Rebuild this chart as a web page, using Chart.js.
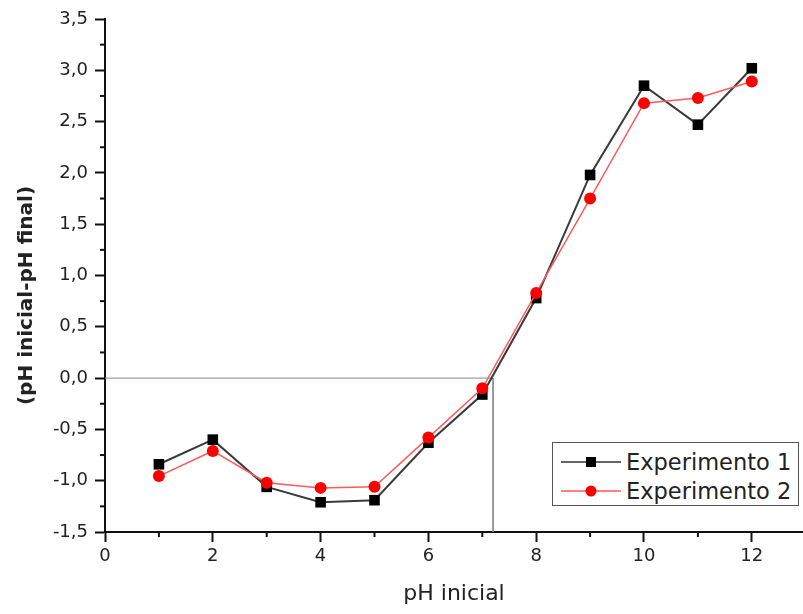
<!DOCTYPE html>
<html>
<head>
<meta charset="utf-8">
<script src="https://cdn.jsdelivr.net/npm/chart.js@4.4.0/dist/chart.umd.min.js"></script>
<style>
  html, body { margin: 0; padding: 0; background: #fff; }
  #wrap { position: relative; width: 803px; height: 614px; }
  #legend { position: absolute; left: 552px; top: 442px; width: 247px; height: 64px; box-sizing: border-box;
            border: 1.5px solid #555; background: #fff; font-family: "DejaVu Sans", sans-serif; font-size: 22.5px; color: #222; }
  #legend .sym { position: absolute; left: 6px; }
  #legend .txt { position: absolute; left: 73px; line-height: 26px; white-space: nowrap; }
</style>
</head>
<body>
<div id="wrap">
  <canvas id="c" width="803" height="614"></canvas>
  <div id="legend">
    <svg class="sym" style="top:9px" width="64" height="20"><line x1="2" y1="10" x2="62" y2="10" stroke="#333" stroke-width="1.5"/><rect x="27" y="5" width="10" height="10" fill="#000"/></svg>
    <span class="txt" style="top:6px">Experimento 1</span>
    <svg class="sym" style="top:38px" width="64" height="20"><line x1="2" y1="10" x2="62" y2="10" stroke="#ff5a5a" stroke-width="1.5"/><circle cx="32" cy="10" r="5.5" fill="#ff0000"/></svg>
    <span class="txt" style="top:35px">Experimento 2</span>
  </div>
</div>
<script>
// ---- data ----
const pHInicial    = [1, 2, 3, 4, 5, 6, 7, 8, 9, 10, 11, 12];
const experimento1 = [-0.84, -0.60, -1.06, -1.21, -1.19, -0.63, -0.16, 0.78, 1.98, 2.85, 2.47, 3.02];
const experimento2 = [-0.955, -0.71, -1.02, -1.07, -1.06, -0.58, -0.10, 0.83, 1.75, 2.68, 2.73, 2.89];
const refLineX = [0, 7.2, 7.2];
const refLineY = [0, 0, -1.5];
const xTickValues = [0, 1, 2, 3, 4, 5, 6, 7, 8, 9, 10, 11, 12];
const xMajorTicks = [0, 2, 4, 6, 8, 10, 12];
const yTickValues = [-1.5, -1.25, -1, -0.75, -0.5, -0.25, 0, 0.25, 0.5, 0.75, 1, 1.25, 1.5, 1.75, 2, 2.25, 2.5, 2.75, 3, 3.25, 3.5];
const yMajorTicks = [-1.5, -1, -0.5, 0, 0.5, 1, 1.5, 2, 2.5, 3, 3.5];
const yAxisTitle = '(pH inicial-pH final)';

const isIn = (arr, v) => arr.some(a => Math.abs(a - v) < 1e-9);
const fmtComma = v => v.toFixed(1).replace('.', ',');

const minorTickPlugin = {
  id: 'minorTicks',
  afterDraw(chart) {
    const ctx = chart.ctx, xs = chart.scales.x, ys = chart.scales.y;
    ctx.save();
    ctx.strokeStyle = '#111';
    ctx.lineWidth = 2;
    xTickValues.filter(v => !isIn(xMajorTicks, v)).forEach(v => {
      const p = xs.getPixelForValue(v);
      ctx.beginPath(); ctx.moveTo(p, xs.top); ctx.lineTo(p, xs.top + 5); ctx.stroke();
    });
    yTickValues.filter(v => !isIn(yMajorTicks, v)).forEach(v => {
      const p = ys.getPixelForValue(v);
      ctx.beginPath(); ctx.moveTo(ys.right, p); ctx.lineTo(ys.right - 5, p); ctx.stroke();
    });
    // y-axis title (offset slightly below the axis centre, as in the original)
    const ca = chart.chartArea;
    ctx.translate(ys.left + 27, (ca.top + ca.bottom) / 2 + 20);
    ctx.rotate(-Math.PI / 2);
    ctx.fillStyle = '#222';
    ctx.font = 'bold 20px "DejaVu Sans"';
    ctx.textAlign = 'center';
    ctx.textBaseline = 'middle';
    ctx.fillText(yAxisTitle, 0, 0);
    ctx.restore();
  }
};

const tickFont = { family: 'DejaVu Sans', size: 18 };

new Chart(document.getElementById('c'), {
  type: 'line',
  data: {
    datasets: [
      {
        label: 'Experimento 2',
        data: pHInicial.map((x, i) => ({ x, y: experimento2[i] })),
        borderColor: '#ff5a5a', borderWidth: 1.5,
        pointStyle: 'circle', pointRadius: 6, pointBackgroundColor: '#ff0000', pointBorderWidth: 0,
        order: 0
      },
      {
        label: 'Experimento 1',
        data: pHInicial.map((x, i) => ({ x, y: experimento1[i] })),
        borderColor: '#3a3a3a', borderWidth: 2,
        pointStyle: 'rect', pointRadius: 7.5, pointBackgroundColor: '#000', pointBorderWidth: 0,
        order: 1
      },
      {
        label: 'ref',
        data: refLineX.map((x, i) => ({ x, y: refLineY[i] })),
        borderColor: '#8a8a8a', borderWidth: 1, pointRadius: 0,
        order: 2
      }
    ]
  },
  options: {
    responsive: false,
    animation: false,
    layout: { autoPadding: false, padding: { top: 19, right: 0, left: 0, bottom: 0 } },
    plugins: { legend: { display: false }, tooltip: { enabled: false } },
    scales: {
      x: {
        type: 'linear', min: 0, max: 12.95,
        afterBuildTicks: s => { s.ticks = xTickValues.map(v => ({ value: v })); },
        afterFit: s => { s.height = 82; s.paddingRight = 0; s.paddingLeft = 0; },
        ticks: { autoSkip: false, maxRotation: 0, padding: 4, color: '#222', font: tickFont,
                 callback: v => isIn(xMajorTicks, v) ? String(v) : '' },
        grid: { display: true, drawOnChartArea: false, drawTicks: true, tickLength: 10, tickWidth: 2,
                tickColor: c => isIn(xMajorTicks, c.tick.value) ? '#111' : 'rgba(0,0,0,0)' },
        border: { display: true, color: '#111', width: 2 },
        title: { display: true, text: 'pH inicial', color: '#222',
                 font: { family: 'DejaVu Sans', size: 22 }, padding: { top: 0, bottom: 7 } }
      },
      y: {
        type: 'linear', min: -1.5, max: 3.5,
        afterBuildTicks: s => { s.ticks = yTickValues.map(v => ({ value: v })); },
        afterFit: s => { s.width = 105; },
        ticks: { autoSkip: false, padding: 7, color: '#222', font: tickFont,
                 callback: v => isIn(yMajorTicks, v) ? fmtComma(v) : '' },
        grid: { display: true, drawOnChartArea: false, drawTicks: true, tickLength: 10, tickWidth: 2,
                tickColor: c => isIn(yMajorTicks, c.tick.value) ? '#111' : 'rgba(0,0,0,0)' },
        border: { display: true, color: '#111', width: 2 },
        title: { display: false, text: yAxisTitle }
      }
    }
  },
  plugins: [minorTickPlugin]
});
</script>
</body>
</html>
